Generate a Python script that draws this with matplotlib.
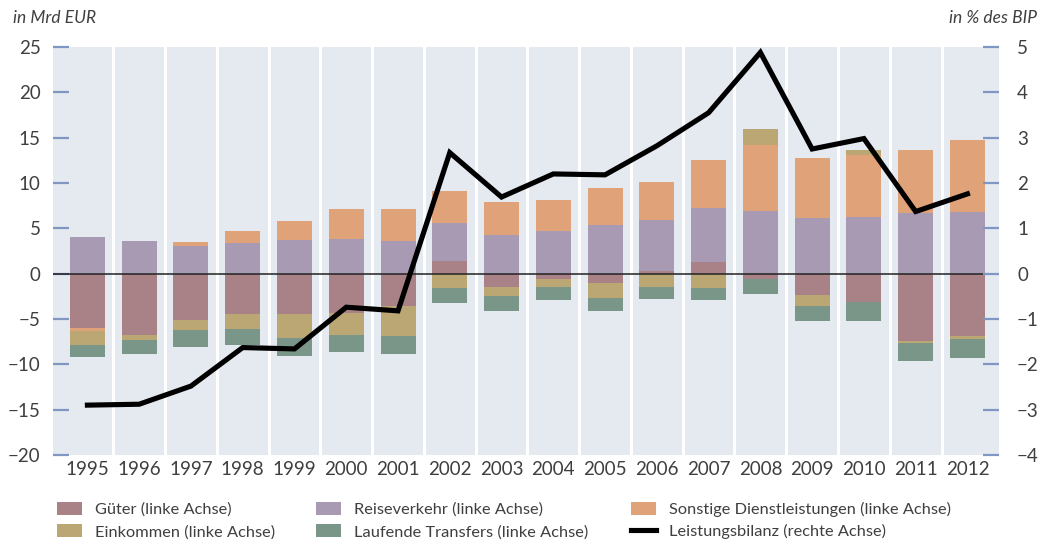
import numpy as np
import matplotlib
matplotlib.use("Agg")
import matplotlib.pyplot as plt
from matplotlib.patches import Patch
from matplotlib.lines import Line2D

plt.rcParams['font.family'] = ['Lato', 'DejaVu Sans']

years = [str(y) for y in range(1995, 2013)]
gueter = [-6.0, -6.76, -5.1, -4.44, -4.44, -4.33, -3.56, 1.4, -1.47, -0.58,
          -1.03, 0.3, 1.29, -0.6, -2.35, -3.12, -7.42, -6.87]
reise = [4.05, 3.6, 3.05, 3.38, 3.72, 3.82, 3.6, 4.19, 4.27, 4.71,
         5.37, 5.62, 5.95, 6.91, 6.14, 6.25, 6.69, 6.8]
sonstige = [-0.35, 0.0, 0.44, 1.32, 2.09, 3.3, 3.53, 3.53, 3.63, 3.41,
            4.08, 4.19, 5.29, 7.28, 6.61, 6.84, 6.95, 7.92]
einkommen = [-1.55, -0.55, -1.1, -1.65, -2.65, -2.43, -3.3, -1.58, -0.99, -0.88,
             -1.65, -1.47, -1.58, 1.76, -1.21, 0.5, -0.22, -0.33]
transfers = [-1.3, -1.55, -1.87, -1.76, -1.98, -1.87, -1.98, -1.65, -1.65, -1.43,
             -1.43, -1.32, -1.32, -1.6, -1.65, -2.08, -1.98, -2.09]
leistungsbilanz = [-2.9, -2.88, -2.48, -1.63, -1.66, -0.74, -0.82, 2.67, 1.69, 2.2,
                   2.18, 2.82, 3.55, 4.88, 2.75, 2.98, 1.37, 1.76]

series = [
    ("Güter (linke Achse)", gueter, "#a88287"),
    ("Reiseverkehr (linke Achse)", reise, "#a89ab2"),
    ("Sonstige Dienstleistungen (linke Achse)", sonstige, "#e0a278"),
    ("Einkommen (linke Achse)", einkommen, "#baa773"),
    ("Laufende Transfers (linke Achse)", transfers, "#7a9688"),
]
line_label = "Leistungsbilanz (rechte Achse)"

txt = "#3f3f3f"
tickc = "#7f97c2"
bg = "#e5eaf1"

fig = plt.figure(figsize=(10.45, 5.42), dpi=100)
ax = fig.add_axes([53/1045, 1-455/542, (999-53)/1045, (455-47)/542])
ax.set_facecolor(bg)
for s in ax.spines.values():
    s.set_visible(False)

x = np.arange(len(years))
pos = np.zeros(len(years))
neg = np.zeros(len(years))
for name, vals, col in series:
    v = np.array(vals)
    bottom = np.where(v >= 0, pos, neg)
    ax.bar(x, v, width=0.676, bottom=bottom, color=col, zorder=2)
    pos = pos + np.where(v >= 0, v, 0)
    neg = neg + np.where(v < 0, v, 0)

for i in range(len(years) - 1):
    ax.axvline(i + 0.5, color="white", lw=2.2, zorder=1)
ax.axhline(0, color="#222222", lw=1.1, zorder=3)

ax.set_xlim(-0.665, 17.61)
ax.set_ylim(-20, 25)
ax.set_yticks(range(-20, 26, 5))
ax.set_yticklabels([("\u2212" + str(-t)) if t < 0 else str(t) for t in range(-20, 26, 5)])
ax.tick_params(axis='y', direction='in', length=11.5, width=1.6, color=tickc,
               labelsize=13.5, labelcolor=txt, pad=9)
ax.set_xticks(x)
ax.set_xticklabels(years)
ax.tick_params(axis='x', length=0, labelsize=13.5, labelcolor=txt, pad=4)

ax2 = ax.twinx()
for s in ax2.spines.values():
    s.set_visible(False)
ax2.set_ylim(-4, 5)
ax2.set_yticks(range(-4, 6))
ax2.set_yticklabels([("\u2212" + str(-t)) if t < 0 else str(t) for t in range(-4, 6)])
ax2.tick_params(axis='y', direction='in', length=11.5, width=1.6, color=tickc,
                labelsize=13.5, labelcolor=txt, pad=13)
ax2.plot(x, leistungsbilanz, color="black", lw=3.7, solid_joinstyle='miter', zorder=5)

fig.text(13/1045, 1-18/542, "in Mrd EUR", fontsize=12.5, style='italic', color=txt,
         ha='left', va='center')
fig.text(1037/1045, 1-18/542, "in % des BIP", fontsize=12.5, style='italic', color=txt,
         ha='right', va='center')

handles = [Patch(facecolor=c, edgecolor='none') for _, _, c in series]
labels = [n for n, _, _ in series]
line_handle = Line2D([0], [0], color='black', lw=3.7)
cols = [
    ([handles[0], handles[3]], [labels[0], labels[3]], 57),
    ([handles[1], handles[4]], [labels[1], labels[4]], 316),
    ([handles[2], line_handle], [labels[2], line_label], 631),
]
for hs, ls, xpx in cols:
    leg = fig.legend(hs, ls, loc='upper left', bbox_to_anchor=(xpx/1045, 1-502/542),
                     frameon=False, fontsize=11.8, labelcolor=txt,
                     handlelength=1.5, handleheight=0.85, handletextpad=0.8,
                     labelspacing=0.42, borderpad=0, borderaxespad=0)

fig.savefig("out.png", dpi=100)
